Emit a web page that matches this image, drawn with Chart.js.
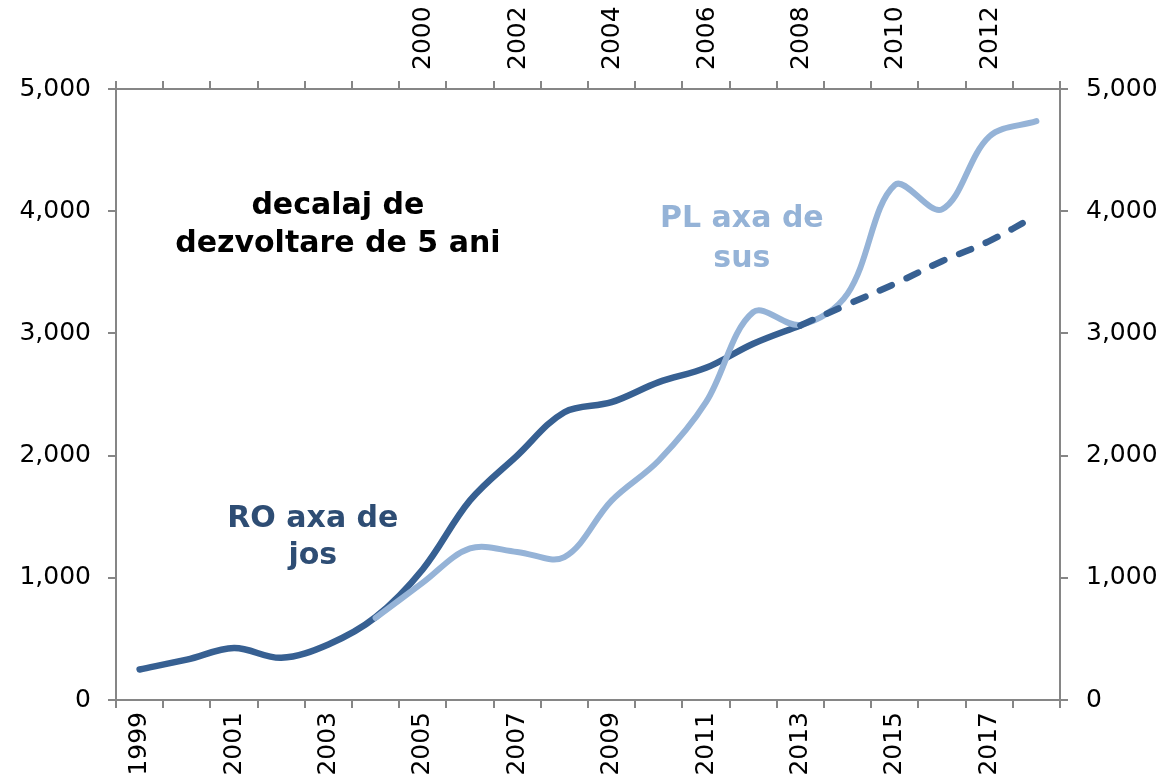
<!DOCTYPE html>
<html>
<head>
<meta charset="utf-8">
<script src="https://cdn.jsdelivr.net/npm/chart.js@4.4.1/dist/chart.umd.min.js"></script>
<style>
  html, body { margin: 0; padding: 0; background: #ffffff; }
  #wrap { width: 1164px; height: 783px; position: relative; }
</style>
</head>
<body>
<div id="wrap"><canvas id="chart"></canvas></div>
<script>
// ---- data ----
const years = [1999, 2000, 2001, 2002, 2003, 2004, 2005, 2006, 2007, 2008,
               2009, 2010, 2011, 2012, 2013, 2014, 2015, 2016, 2017, 2018];
// Romania, actual (1999-2013)
const roActualYears = [1999, 2000, 2001, 2002, 2003, 2004, 2005, 2006, 2007, 2008, 2009, 2010, 2011, 2012, 2013];
const roActual      = [250, 330, 425, 345, 455, 678, 1070, 1633, 2000, 2355, 2437, 2601, 2718, 2915, 3065];
// Romania, projection (2013-2018)
const roProjYears = [2013, 2014, 2015, 2016, 2017, 2018];
const roProj      = [3065, 3237, 3406, 3591, 3755, 3965];
// Poland (1999-2013), plotted 5 years later on the bottom axis
const plYears  = [1999, 2000, 2001, 2002, 2003, 2004, 2005, 2006, 2007, 2008, 2009, 2010, 2011, 2012, 2013];
const plValues = [672, 960, 1240, 1212, 1170, 1632, 1960, 2437, 3174, 3070, 3326, 4215, 4015, 4610, 4737];
const lagYears = 5;
// top axis labels (Poland years)
const topYears = ['', '', '', '', '', 1999, 2000, 2001, 2002, 2003, 2004, 2005, 2006, 2007, 2008, 2009, 2010, 2011, 2012, 2013];
const yTicks = [0, 1000, 2000, 3000, 4000, 5000];

// ---- series aligned to bottom categories ----
function align(srcYears, srcVals, shift) {
  return years.map(y => {
    const k = srcYears.indexOf(y - shift);
    return k >= 0 ? srcVals[k] : null;
  });
}
const roSolidData = align(roActualYears, roActual, 0);
const roDashData  = align(roProjYears, roProj, 0);
const plData      = align(plYears, plValues, lagYears);

// ---- annotations (positioned through scales: x = category index, y = value) ----
const notes = [
  { lines: ['decalaj de', 'dezvoltare de 5 ani'], x: 4.2,  y: [4040, 3730], color: '#000000' },
  { lines: ['PL axa de', 'sus'],                  x: 12.76, y: [3935, 3610], color: '#95B3D7' },
  { lines: ['RO axa de', 'jos'],                  x: 3.67, y: [1480, 1180], color: '#2E4D74' }
];

const AXIS = '#868686';
const FONT = '"DejaVu Sans", "Liberation Sans", Arial, sans-serif';

const notePlugin = {
  id: 'notes',
  afterDatasetsDraw(chart) {
    const { ctx } = chart;
    const xs = chart.scales.x, ys = chart.scales.y;
    ctx.save();
    ctx.font = 'bold 30px ' + FONT;
    ctx.textAlign = 'center';
    ctx.textBaseline = 'middle';
    notes.forEach(n => {
      ctx.fillStyle = n.color;
      const px = xs.getPixelForValue(n.x);
      n.lines.forEach((t, i) => ctx.fillText(t, px, ys.getPixelForValue(n.y[i])));
    });
    ctx.restore();
  }
};

const lineBase = {
  fill: false,
  pointRadius: 0,
  pointHoverRadius: 0,
  borderWidth: 6.5,
  tension: 0.35,
  borderCapStyle: 'round',
  borderJoinStyle: 'round',
  spanGaps: false,
  xAxisID: 'x',
  yAxisID: 'y'
};

const axisGrid = { drawOnChartArea: false, drawTicks: true, tickLength: 8, color: AXIS, lineWidth: 2 };
const axisBorder = { display: true, color: AXIS, width: 2 };
const tickFont = { family: FONT, size: 25 };

new Chart(document.getElementById('chart'), {
  type: 'line',
  data: {
    labels: years,
    datasets: [
      Object.assign({}, lineBase, { label: 'RO proiecție', data: roDashData, borderColor: '#376092', borderDash: [13, 16] }),
      Object.assign({}, lineBase, { label: 'PL', data: plData, borderColor: '#95B3D7', borderWidth: 6 }),
      Object.assign({}, lineBase, { label: 'RO', data: roSolidData, borderColor: '#376092' })
    ]
  },
  options: {
    responsive: true,
    maintainAspectRatio: false,
    animation: false,
    events: [],
    layout: { padding: 0 },
    plugins: { legend: { display: false }, tooltip: { enabled: false }, title: { display: false } },
    scales: {
      x: {
        type: 'category',
        position: 'bottom',
        offset: true,
        grid: Object.assign({ offset: true }, axisGrid),
        border: axisBorder,
        ticks: {
          autoSkip: false, minRotation: 90, maxRotation: 90, padding: 4,
          color: '#000', font: tickFont,
          callback: (v, i) => (i % 2 === 0 ? String(years[i]) : '')
        },
        afterFit: s => { s.height = 83; }
      },
      x2: {
        type: 'category',
        position: 'top',
        labels: topYears.map(String),
        offset: true,
        grid: Object.assign({ offset: true }, axisGrid),
        border: axisBorder,
        ticks: {
          autoSkip: false, minRotation: 90, maxRotation: 90, padding: 11, labelOffset: 31,
          color: '#000', font: tickFont,
          callback: (v, i) => (i >= 6 && i % 2 === 0 ? String(topYears[i]) : '')
        },
        afterFit: s => { s.height = 89; }
      },
      y: {
        type: 'linear',
        position: 'left',
        min: 0, max: 5000,
        grid: axisGrid,
        border: axisBorder,
        afterBuildTicks: s => { s.ticks = yTicks.map(v => ({ value: v })); },
        ticks: { padding: 17, color: '#000', font: tickFont, callback: v => v.toLocaleString('en-US') },
        afterFit: s => { s.width = 116; }
      },
      y2: {
        type: 'linear',
        position: 'right',
        min: 0, max: 5000,
        grid: axisGrid,
        border: axisBorder,
        afterBuildTicks: s => { s.ticks = yTicks.map(v => ({ value: v })); },
        ticks: { padding: 18, color: '#000', font: tickFont, callback: v => v.toLocaleString('en-US') },
        afterFit: s => { s.width = 104; }
      }
    }
  },
  plugins: [notePlugin]
});
</script>
</body>
</html>
